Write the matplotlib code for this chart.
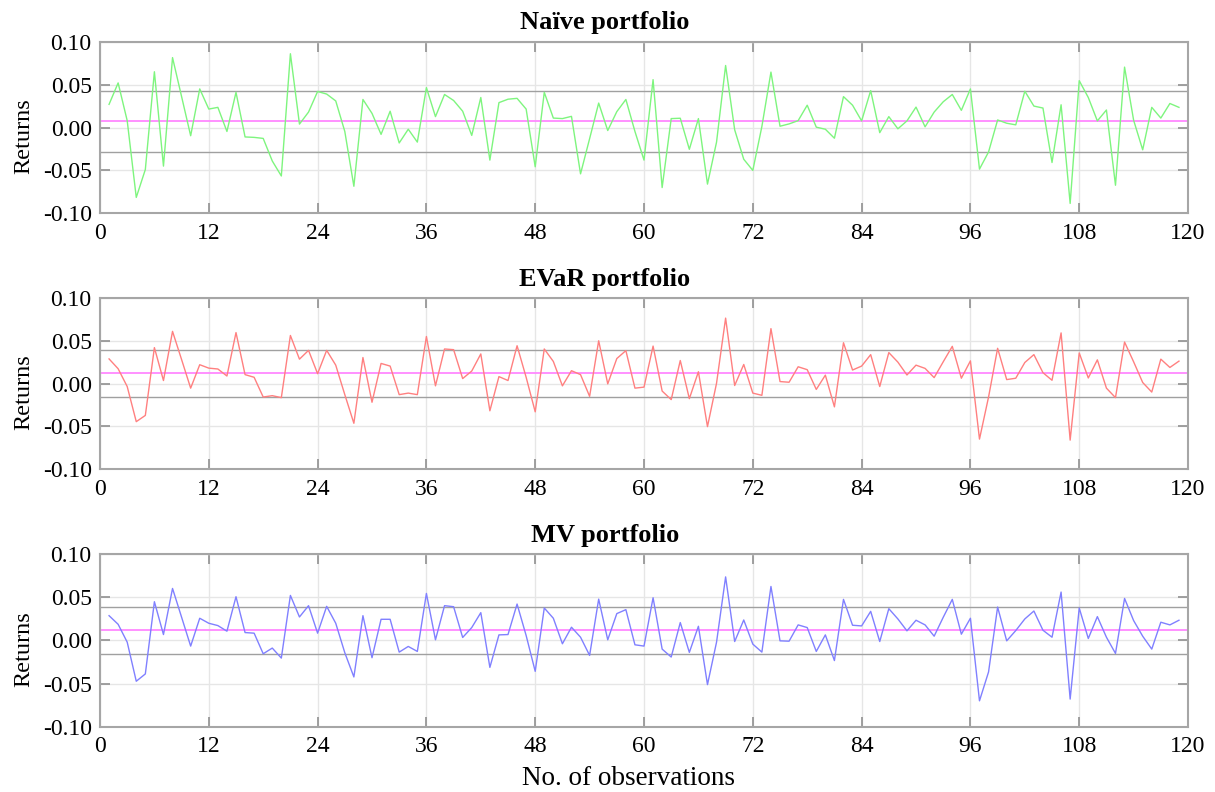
import numpy as np
import matplotlib
matplotlib.use("Agg")
import matplotlib.pyplot as plt

obs = list(range(1, 120))

naive = [0.027, 0.052, 0.008, -0.0815, -0.049, 0.065, -0.045, 0.0815, 0.036, -0.0096,
         0.045, 0.0215, 0.0235, -0.0046, 0.041, -0.011, -0.0115, -0.0127, -0.039, -0.0565,
         0.086, 0.004, 0.018, 0.042, 0.039, 0.031, -0.0046, -0.0685, 0.0327, 0.0165,
         -0.008, 0.019, -0.018, -0.002, -0.017, 0.0465, 0.0127, 0.0385, 0.0315, 0.019,
         -0.0092, 0.035, -0.038, 0.029, 0.033, 0.034, 0.0215, -0.0458, 0.041, 0.011,
         0.0104, 0.013, -0.054, -0.013, 0.0285, -0.0035, 0.0185, 0.0327, -0.0046, -0.038,
         0.0558, -0.070, 0.0104, 0.0108, -0.0254, 0.0104, -0.066, -0.017, 0.0723, -0.0027,
         -0.037, -0.050, 0.0012, 0.0646, 0.0015, 0.0042, 0.008, 0.026, 0.0004, -0.002,
         -0.0125, 0.036, 0.026, 0.0077, 0.043, -0.006, 0.0127, -0.0015, 0.0077, 0.0238,
         0.0008, 0.018, 0.030, 0.0385, 0.020, 0.045, -0.0485, -0.0285, 0.0088, 0.005,
         0.0031, 0.0423, 0.025, 0.0227, -0.0408, 0.0265, -0.0885, 0.0546, 0.035, 0.0077,
         0.0204, -0.0673, 0.0704, 0.0085, -0.026, 0.0235, 0.011, 0.028, 0.0235]

evar = [0.0288, 0.0173, -0.0035, -0.0446, -0.0373, 0.042, 0.0035, 0.061, 0.028, -0.0054,
        0.022, 0.018, 0.017, 0.0088, 0.0596, 0.0104, 0.0073, -0.0158, -0.0142, -0.0165,
        0.0562, 0.0285, 0.0388, 0.0115, 0.0388, 0.0215, -0.013, -0.0465, 0.0304, -0.0219,
        0.0235, 0.0204, -0.013, -0.0112, -0.013, 0.055, -0.0027, 0.0404, 0.0396, 0.0058,
        0.0146, 0.0346, -0.0319, 0.0081, 0.0035, 0.0442, 0.0073, -0.0331, 0.0404, 0.0258,
        -0.0027, 0.015, 0.0104, -0.015, 0.050, -0.0004, 0.0292, 0.0385, -0.0054, -0.0042,
        0.0438, -0.0088, -0.0188, 0.0269, -0.0177, 0.0138, -0.0504, 0.0004, 0.0765, -0.0023,
        0.0223, -0.0112, -0.0138, 0.0642, 0.0023, 0.0015, 0.0196, 0.0162, -0.0069, 0.0098,
        -0.0273, 0.0477, 0.0158, 0.0204, 0.0338, -0.0035, 0.0362, 0.025, 0.010, 0.0215,
        0.0177, 0.0069, 0.0254, 0.0435, 0.0062, 0.0265, -0.065, -0.0158, 0.0412, 0.0046,
        0.0062, 0.0246, 0.0338, 0.0127, 0.0038, 0.0592, -0.0662, 0.0358, 0.0065, 0.0277,
        -0.0054, -0.0165, 0.0485, 0.0254, 0.0012, -0.010, 0.0285, 0.0188, 0.0262]

mv = [0.0288, 0.0188, -0.0019, -0.0473, -0.0388, 0.045, 0.0069, 0.0604, 0.027, -0.0065,
      0.0258, 0.020, 0.0173, 0.0108, 0.0508, 0.0092, 0.0085, -0.0154, -0.0088, -0.0204,
      0.0523, 0.0273, 0.0404, 0.0085, 0.0396, 0.020, -0.0142, -0.0423, 0.0288, -0.020,
      0.0246, 0.0246, -0.0135, -0.0069, -0.0127, 0.0546, 0.0008, 0.0404, 0.0392, 0.0035,
      0.015, 0.0323, -0.0312, 0.0065, 0.0069, 0.0423, 0.0058, -0.0358, 0.0377, 0.0258,
      -0.0038, 0.0154, 0.0038, -0.0173, 0.048, 0.0008, 0.0312, 0.0358, -0.005, -0.0065,
      0.0496, -0.010, -0.0192, 0.0208, -0.0138, 0.0165, -0.0512, -0.0019, 0.0738, -0.0012,
      0.0238, -0.0042, -0.0135, 0.0627, -0.0004, -0.0008, 0.0181, 0.015, -0.0127, 0.0065,
      -0.0233, 0.0477, 0.0177, 0.0169, 0.0338, -0.0012, 0.0369, 0.025, 0.0112, 0.0235,
      0.0181, 0.005, 0.0269, 0.0477, 0.0073, 0.0258, -0.070, -0.0365, 0.0388, -0.0004,
      0.0115, 0.025, 0.0342, 0.0119, 0.0038, 0.0562, -0.068, 0.0377, 0.0023, 0.0277,
      0.0038, -0.015, 0.0488, 0.0231, 0.005, -0.010, 0.0212, 0.0181, 0.0235]

# mean and +/- one standard deviation lines
means = [0.0077, 0.0119, 0.0119]
upper = [0.0423, 0.0390, 0.0385]
lower = [-0.0281, -0.0158, -0.0158]

titles = ["Naïve portfolio", "EVaR portfolio", "MV portfolio"]
colors = ["#7ef57e", "#ff8080", "#8080ff"]
series = [naive, evar, mv]

xticks = list(range(0, 121, 12))
yticks = [-0.10, -0.05, 0.00, 0.05, 0.10]

plt.rcParams['font.family'] = ['Liberation Serif', 'DejaVu Serif']

fig = plt.figure(figsize=(12.15, 7.92), dpi=100)
left, width = 0.0823, 0.8955
bottoms = [0.7307, 0.4078, 0.0825]
heights = [0.2166, 0.2159, 0.2176]

frame = "#a6a6a6"
for i in range(3):
    ax = fig.add_axes([left, bottoms[i], width, heights[i]])
    ax.grid(True, color="#e6e6e6", linewidth=1.0)
    ax.set_axisbelow(True)
    ax.axhline(upper[i], color="#a0a0a0", linewidth=1.0, zorder=2)
    ax.axhline(lower[i], color="#a0a0a0", linewidth=1.0, zorder=2)
    ax.axhline(means[i], color="#ff88ff", linewidth=1.3, zorder=2)
    ax.plot(obs, series[i], color=colors[i], linewidth=1.0, zorder=3)
    ax.set_xlim(0, 120)
    ax.set_ylim(-0.10, 0.10)
    ax.set_xticks(xticks)
    ax.set_yticks(yticks)
    ax.set_yticklabels([f"{v:.2f}" for v in yticks])
    ax.tick_params(direction="in", length=7, width=1.2, color="#909090",
                   labelsize=17, top=True, right=True)
    ax.tick_params(axis="x", pad=7)
    ax.tick_params(axis="y", pad=6)
    for s in ax.spines.values():
        s.set_color(frame)
        s.set_linewidth(1.5)
    ax.set_title(titles[i], fontsize=19, fontweight="bold", pad=9, x=0.464)
    ax.set_ylabel("Returns", fontsize=17.5, labelpad=6)
    ax.yaxis.label.set_y(0.45)
    if i == 2:
        ax.set_xlabel("No. of observations", fontsize=19.5, labelpad=6)
        ax.xaxis.label.set_x(0.486)

fig.savefig("out.png", dpi=100)
